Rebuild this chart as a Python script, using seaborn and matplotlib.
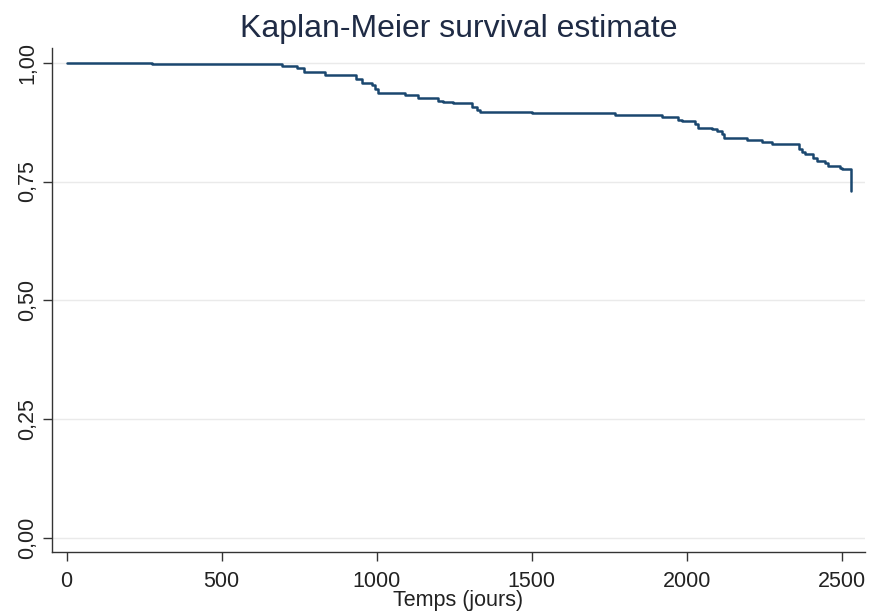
import pandas as pd
import matplotlib
matplotlib.use("Agg")
import matplotlib.pyplot as plt
import seaborn as sns

# step times (days) and survival after each step
temps = [0, 274, 695, 743, 765, 833, 933, 952, 985, 995, 1004, 1091, 1133, 1198,
         1214, 1246, 1308, 1324, 1334, 1500, 1769, 1919, 1972, 1984, 2027, 2036,
         2081, 2097, 2113, 2120, 2194, 2242, 2274, 2363, 2371, 2382, 2408, 2419,
         2446, 2456, 2495, 2500, 2529]
survie = [1.000, 0.997, 0.993, 0.989, 0.980, 0.975, 0.966, 0.957, 0.953, 0.945,
          0.937, 0.933, 0.926, 0.920, 0.917, 0.915, 0.906, 0.901, 0.897, 0.894,
          0.890, 0.886, 0.880, 0.877, 0.871, 0.863, 0.861, 0.856, 0.850, 0.842,
          0.838, 0.834, 0.830, 0.819, 0.813, 0.807, 0.800, 0.794, 0.789, 0.782,
          0.779, 0.777, 0.730]
xticks = [0, 500, 1000, 1500, 2000, 2500]
yticks = [0.00, 0.25, 0.50, 0.75, 1.00]
ytick_labels = ["0,00", "0,25", "0,50", "0,75", "1,00"]

navy = "#1a476f"

sns.set_style("ticks")
plt.rcParams['font.family'] = ['Liberation Sans', 'DejaVu Sans']

df = pd.DataFrame({'temps': temps, 'survie': survie})

fig = plt.figure(figsize=(8.69, 6.14), dpi=100)
ax = fig.add_axes([0.0595, 0.1015, 0.936, 0.8203])

sns.lineplot(data=df, x='temps', y='survie', ax=ax, color=navy, linewidth=1.8,
             drawstyle='steps-post', estimator=None, sort=False)

ax.set_xlim(-48, 2575)
ax.set_ylim(-0.029, 1.031)

ax.set_yticks(yticks)
ax.set_yticklabels(ytick_labels, rotation=90, va='center', fontsize=15.5)
ax.set_xticks(xticks)
ax.set_xticklabels([str(t) for t in xticks], fontsize=15.5)

for y in yticks:
    ax.axhline(y, color='#eaeaea', linewidth=1, zorder=0)

ax.tick_params(axis='both', direction='out', length=6.5, width=1, color='#333333',
               labelcolor='#222222')
ax.tick_params(axis='y', pad=3)
ax.tick_params(axis='x', pad=7.5)
for s in ['top', 'right']:
    ax.spines[s].set_visible(False)
for s in ['left', 'bottom']:
    ax.spines[s].set_color('#333333')
    ax.spines[s].set_linewidth(1)

ax.set_xlabel('Temps (jours)', fontsize=15.5, labelpad=-1.5, color='#222222')
ax.set_ylabel('')
ax.set_title('Kaplan-Meier survival estimate', fontsize=23, color='#1f2b45', pad=8)

plt.savefig('out.png', dpi=100)
